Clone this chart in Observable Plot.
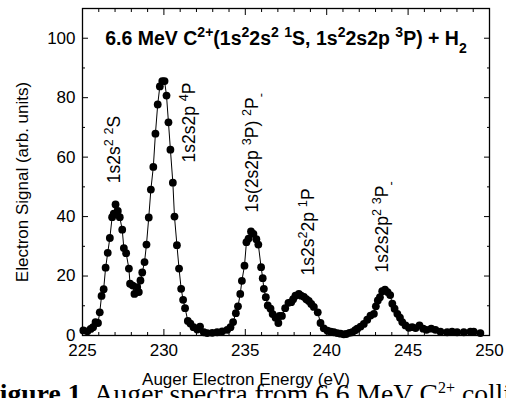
<!DOCTYPE html>
<html><head><meta charset="utf-8">
<script src="https://cdn.jsdelivr.net/npm/d3@7"></script>
<script src="https://cdn.jsdelivr.net/npm/@observablehq/plot@0.6"></script>
<style>
html,body{margin:0;padding:0;background:#fff;}
body{width:506px;height:398px;overflow:hidden;position:relative;font-family:"Liberation Sans",Arial,sans-serif;}
#chart{position:absolute;left:0;top:0;}
#caption{position:absolute;left:-17px;top:380px;font-family:"Liberation Serif","Times New Roman",serif;font-size:27.6px;line-height:27px;white-space:nowrap;color:#000;}
#caption sup{font-size:16px;line-height:0;}
#caption sub{font-size:16px;line-height:0;}
</style></head><body>
<div id="chart"></div>
<div id="caption"><b>Figure 1.</b> Auger spectra from 6.6 MeV C<sup>2+</sup> collisions with H<sub>2</sub></div>
<script>
// ---- data ----
const energy = [225.05,225.3,225.5,225.65,225.8,225.95,226.06,226.17,226.3,226.42,226.55,226.68,226.82,226.92,227.03,227.17,227.29,227.44,227.54,227.68,227.85,227.92,228.09,228.19,228.36,228.46,228.56,228.67,228.81,228.93,229.07,229.2,229.35,229.48,229.62,229.75,229.9,230.04,230.16,230.28,230.4,230.55,230.65,230.8,230.93,231.06,231.18,231.3,231.47,231.63,231.82,232.05,232.22,232.45,232.66,232.97,233.27,233.58,233.89,234.09,234.25,234.42,234.55,234.69,234.79,234.95,235.07,235.2,235.35,235.5,235.68,235.8,235.97,236.07,236.14,236.26,236.38,236.55,236.68,236.86,237.03,237.1,237.25,237.45,237.65,237.82,237.94,238.08,238.29,238.43,238.6,238.75,238.9,239.05,239.21,239.45,239.62,239.82,240.05,240.25,240.44,240.65,240.85,241.05,241.2,241.4,241.57,241.75,241.88,242.08,242.28,242.49,242.69,242.9,243.02,243.14,243.27,243.41,243.58,243.74,243.9,244.03,244.17,244.34,244.5,244.64,244.84,245.05,245.25,245.46,245.7,245.93,246.13,246.42,246.68,246.99,247.4,247.7,248.01,248.42,248.83,249.03,249.44];
const signal = [1.7,1.4,2.2,2.8,4.5,4.2,7.8,13.3,15.6,22.8,27.8,32.8,39.8,41,44.1,41.9,39.8,35.6,29.4,27.7,22.5,17.4,16.8,14,16.3,14.6,18.5,21.2,24.7,30.6,39.7,49.1,56.7,67.9,77.7,83.8,85.6,85.6,80.7,71.7,62.5,51.4,40,30.4,22.5,15.7,12,9.2,4.9,4,2.8,2,3,1.1,0.8,0.9,1.1,1.4,1.9,2.8,4.5,7.5,9.8,14,18.4,23.5,31.4,32.6,35,34.2,32.4,30.6,23,19.3,15.7,12.9,10.1,9,7.2,6,4.2,6.6,6.6,9.2,11,11.2,12.2,13.4,14,13.4,13,12.2,11.6,10.6,9.6,7.8,4.2,2.4,1.6,1.3,1.1,0.8,0.6,0.4,0.5,0.9,1.1,1.8,2.3,3,3.9,5.3,6.7,7.3,9.8,11.8,12.9,14.9,15.4,14.6,13.6,10.7,9,7.3,6,4.5,3.4,2.6,2.8,2.5,3.4,2.3,1.9,2.3,1.9,1.3,1.1,1.3,1.1,1.1,1.3,1.3,0.8];
const xMajor = [225,230,235,240,245,250];
const xMinor = [226,227,228,229,231,232,233,234,236,237,238,239,241,242,243,244,246,247,248,249];
const yMajor = [0,20,40,60,80,100];
const yMinor = [10,30,50,70,90];
const labelText = ["1s2s^{2} ^{2}S","1s2s2p ^{4}P","1s(2s2p ^{3}P) ^{2}P_{-}","1s2s^{2}2p ^{1}P","1s2s2p^{2} ^{3}P_{-}"];
const labelEnergy = [226.95,231.57,235.45,238.85,243.45];
const labelSignal = [51.2,58.2,41.4,20.2,21.2];
const titleText = "6.6 MeV C^{2+}(1s^{2}2s^{2} ^{1}S, 1s^{2}2s2p ^{3}P) + H_{2}";
const xTitle = "Auger Electron Energy (eV)";
const yTitle = "Electron Signal (arb. units)";

const pts = energy.map((e,i)=>({e, s: signal[i]}));
const labels = labelText.map((t,i)=>({t, e: labelEnergy[i], s: labelSignal[i]}));

const chart = Plot.plot({
  width: 506, height: 386,
  marginLeft: 82, marginRight: 17, marginTop: 8, marginBottom: 51,
  x: {domain: [225, 250]},
  y: {domain: [0, 110]},
  style: {fontFamily: '"Liberation Sans", Arial, sans-serif', fontSize: "17px", color: "#000", background: "#fff", overflow: "visible"},
  marks: [
    // ticks (inward)
    Plot.axisX(xMajor, {anchor: "bottom", tickSize: -6, fill: "none", label: null}),
    Plot.axisX(xMinor, {anchor: "bottom", tickSize: -3, fill: "none", label: null}),
    Plot.axisX(xMajor, {anchor: "top", tickSize: -6, fill: "none", label: null}),
    Plot.axisX(xMinor, {anchor: "top", tickSize: -3, fill: "none", label: null}),
    Plot.axisY(yMajor, {anchor: "left", tickSize: -6, fill: "none", label: null}),
    Plot.axisY(yMinor, {anchor: "left", tickSize: -3, fill: "none", label: null}),
    Plot.axisY(yMajor, {anchor: "right", tickSize: -6, fill: "none", label: null}),
    Plot.axisY(yMinor, {anchor: "right", tickSize: -3, fill: "none", label: null}),
    // tick labels
    Plot.axisX(xMajor, {anchor: "bottom", tickSize: 0, tickPadding: 8, label: null, fontSize: 17}),
    Plot.axisY(yMajor, {anchor: "left", tickSize: 0, tickPadding: 7, label: null, fontSize: 17}),
    Plot.frame({stroke: "#000", strokeWidth: 1.3}),
    // axis titles
    Plot.text([xTitle], {frameAnchor: "bottom", dx: -40, dy: 44, fontSize: 17, textAnchor: "middle", lineAnchor: "middle"}),
    Plot.text([yTitle], {frameAnchor: "left", dx: -60, dy: 10, rotate: -90, fontSize: 17, textAnchor: "middle", lineAnchor: "middle"}),
    // title
    Plot.text([titleText], {frameAnchor: "top", dy: 30, fontSize: 19.5, fontWeight: "bold", textAnchor: "middle", lineAnchor: "middle"}),
    // data
    Plot.line(pts, {x: "e", y: "s", stroke: "#000", strokeWidth: 1}),
    Plot.dot(pts, {x: "e", y: "s", r: 3.9, fill: "#000", stroke: "none"}),
    // peak labels
    Plot.text(labels, {x: "e", y: "s", text: "t", rotate: -90, textAnchor: "start", lineAnchor: "middle", fontSize: 17.5})
  ]
});
document.getElementById("chart").appendChild(chart);

// turn ^{..} and _{..} into real superscript / subscript tspans
function richify(el) {
  const str = el.textContent;
  if (!/[\^_]\{/.test(str)) return;
  while (el.firstChild) el.removeChild(el.firstChild);
  const re = /([\^_])\{([^}]*)\}/g;
  let last = 0, m;
  const ns = "http://www.w3.org/2000/svg";
  while ((m = re.exec(str))) {
    if (m.index > last) el.appendChild(document.createTextNode(str.slice(last, m.index)));
    const ts = document.createElementNS(ns, "tspan");
    ts.setAttribute("baseline-shift", m[1] === "^" ? "super" : "sub");
    ts.setAttribute("font-size", "72%");
    ts.textContent = m[2];
    el.appendChild(ts);
    last = re.lastIndex;
  }
  if (last < str.length) el.appendChild(document.createTextNode(str.slice(last)));
}
chart.querySelectorAll("text").forEach(richify);
</script>
</body></html>
